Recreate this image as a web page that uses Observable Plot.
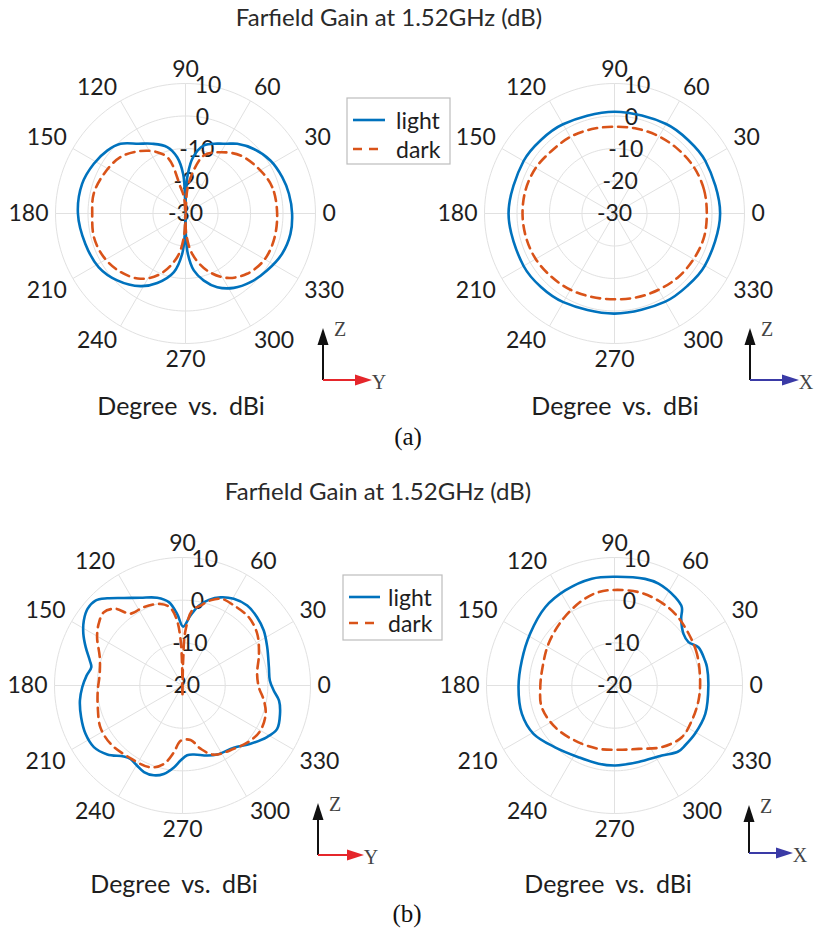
<!DOCTYPE html>
<html>
<head>
<meta charset="utf-8">
<script src="https://cdn.jsdelivr.net/npm/d3@7"></script>
<script src="https://cdn.jsdelivr.net/npm/@observablehq/plot@0.6"></script>
<style>
  body { margin: 0; background: #fff; }
  #fig { position: relative; width: 815px; height: 928px; background: #fff; overflow: hidden;
         font-family: Lato, "Open Sans", sans-serif; color: #222; }
  .abs { position: absolute; }
  .ctext { position: absolute; white-space: nowrap; line-height: 1; transform: translate(-50%, -50%); }
  .ttl { font-size: 24px; color: #2a2a2a; }
  .xl { font-size: 25px; word-spacing: 5px; color: #1e1e1e; }
  .cap { font-family: "Liberation Serif", "Times New Roman", serif; font-size: 25px; color: #111; }
</style>
</head>
<body>
<div id="fig"></div>
<script>
// ---------- ticks / labels ----------
const angleTicks = [0, 30, 60, 90, 120, 150, 180, 210, 240, 270, 300, 330];
const rTicksA = [-30, -20, -10, 0, 10];
const rTicksB = [-20, -10, 0, 10];
const seriesNames = ["light", "dark"];
const seriesColors = ["#0072BD", "#D95319"];
const titleText = "Farfield Gain at 1.52GHz (dB)";
const xLabelText = "Degree vs. dBi";
const captions = ["(a)", "(b)"];

// ---------- (a) YZ plane (left) ----------
const aYZ_light_deg = [0, 10.8, 20.6, 32, 43.4, 53.4, 59.5, 65.6, 74.9, 82.3, 86.6, 89, 90, 91.9, 93.4, 98.4, 105.4, 115.6, 124, 133, 141.2, 151.5, 164, 180, 196.9, 211.8, 224.4, 238.2, 247.9, 258.8, 265.3, 268.1, 270, 271, 273.3, 278.3, 285.3, 293.3, 303, 313.4, 325, 337.4, 349];
const aYZ_light_db  = [2.8, 2.4, 1.8, 0.8, -1.1, -3.3, -5.1, -6.4, -8.3, -12.5, -17.8, -23.9, -30, -23.9, -17.8, -12.5, -8.8, -6.2, -4.1, -0.7, 0.9, 2.1, 3.1, 3.1, 2.2, 1.4, -0.6, -3.7, -6.9, -11.6, -17.5, -23.7, -30, -23.7, -17.6, -12.3, -8.6, -5.3, -2.7, -0.9, 0.6, 2.2, 2.9];
const aYZ_dark_deg  = [0, 16.9, 29.8, 46.5, 60.3, 72.5, 80.5, 85.9, 90, 95, 100.7, 107, 114.8, 125.8, 139.1, 154.1, 167.9, 180, 194.5, 208.1, 222, 235.4, 247.5, 259.2, 266, 270, 272, 279.4, 290.8, 302.9, 315.6, 329, 343];
const aYZ_dark_db   = [-1.8, -2.1, -3.4, -5.4, -8.3, -11.3, -17.6, -22.9, -30, -25, -21.8, -12.4, -9.2, -6.3, -3.5, -2.1, -1.1, -1.3, -0.9, -1.5, -3.1, -5.6, -9.9, -16.3, -22.7, -30, -23.7, -17.4, -11.2, -6.4, -3.5, -1.9, -1.6];

// ---------- (a) XZ plane (right) ----------
const aXZ_light_deg = [0, 30, 45, 60, 90, 120, 135, 150, 180, 210, 225, 240, 270, 300, 315, 330];
const aXZ_light_db  = [2.5, 2.3, 2.0, 1.8, 1.3, 1.7, 2.0, 2.3, 2.6, 2.3, 2.0, 1.5, 0.8, 1.3, 1.6, 2.1];
const aXZ_dark_deg  = [0, 15, 30, 45, 60, 75, 90, 105, 120, 135, 150, 165, 180, 195, 210, 225, 240, 255, 270, 285, 300, 315, 330, 345];
const aXZ_dark_db   = [-1.6, -1.5, -1.7, -2.2, -2.6, -3.0, -3.3, -3.1, -2.8, -2.7, -2.0, -1.7, -1.7, -1.8, -2.0, -2.5, -2.9, -3.4, -3.6, -3.3, -2.9, -2.3, -1.9, -1.5];

// ---------- (b) YZ plane (left) ----------
const bYZ_light_deg = [3.3, 12, 24.4, 34.1, 42.5, 51, 59.4, 66.7, 72.9, 78.5, 83.5, 89.4, 94.3, 99.3, 106.1, 115.6, 123.8, 130.8, 135.7, 141, 146.6, 152.5, 158.4, 164.9, 168.7, 174.1, 181, 188.3, 197.4, 206.5, 214.8, 222.5, 230.4, 234.7, 240.5, 246, 252.3, 258, 264, 268.5, 273.8, 279.3, 289.4, 296.7, 309.5, 319.4, 328.6, 335.4, 343.8, 351.1, 356.9];
const bYZ_light_db  = [0.5, 0.7, 1.8, 3.0, 3.7, 4.1, 3.6, 2.5, 1.0, -0.9, -3.5, -6.2, -3.2, -0.2, 1.4, 2.8, 4.7, 7.0, 8.5, 8.6, 7.7, 6.2, 4.4, 2.5, 1.8, 2.6, 3.5, 4.3, 4.9, 5.4, 5.3, 3.9, 1.6, 1.1, 1.6, 2.2, 2.1, 1.2, -0.7, -2.4, -3.6, -3.6, -2.6, -1.9, -1.1, 1.0, 3.2, 4.4, 3.8, 2.9, 1.4];
const bYZ_dark_deg  = [8.9, 22.5, 34.7, 45.8, 57.3, 65.4, 71.8, 77.3, 82.7, 86.9, 88.5, 89.5, 91, 92.5, 95, 99, 105.1, 116.3, 126, 131.2, 137, 143.6, 150.5, 161.1, 172, 183.4, 194.4, 207, 219, 233.2, 248.6, 256.6, 262.6, 268, 278.4, 285.9, 294.4, 309, 321, 330, 341.1, 349.6, 358.7];
const bYZ_dark_db   = [-2.3, -0.6, 1.3, 2.3, 2.3, 2.3, 1.0, -0.8, -2.3, -7.1, -14, -22.5, -16, -9, -4.5, -1.5, -0.2, 0.5, 0.8, 3.9, 5.2, 4.4, 3.0, 0.5, -0.4, -0.1, 0.5, 1.6, 1.7, 1.0, 0.6, -1.1, -4.2, -7.0, -7.1, -4.6, -2.2, -0.9, 0.5, 1.1, 0.6, -0.6, -2.1];

// ---------- (b) XZ plane (right) ----------
const bXZ_light_deg = [0, 11.2, 15.4, 24.5, 30.4, 36.8, 45, 49.3, 55.5, 66.6, 74, 90, 102, 117.4, 131.5, 148.5, 164.9, 181, 197, 210.8, 226.1, 243.3, 258.5, 270.5, 287.4, 304, 314, 320, 329, 342.6];
const bXZ_light_db  = [2.0, 2.1, 2.0, 1.6, 0.1, 0.2, 2.1, 4.2, 5.1, 6.0, 6.0, 5.5, 5.6, 5.1, 4.5, 3.2, 2.5, 2.5, 2.7, 2.1, 0.1, -1.2, -1.3, -1.25, -1.2, -0.2, 1.5, 1.7, 2.0, 2.3];
const bXZ_dark_deg  = [3.3, 21, 34.9, 49.8, 62.6, 75.6, 90, 99.7, 111, 129, 147.7, 165.7, 181.3, 196.6, 215.1, 234.4, 255.8, 273.6, 290.8, 307.5, 322.5, 335.6, 349.9];
const bXZ_dark_db   = [0.1, 0.7, 1.2, 2.0, 2.4, 2.6, 2.4, 2.2, 1.3, -0.4, -1.7, -2.6, -2.6, -2.2, -3.0, -4.1, -4.7, -4.9, -4.1, -1.8, -0.1, -0.1, 0.0];

// ---------- drawing ----------
const fig = document.getElementById("fig");
const RAD = Math.PI / 180;
const gx = (a, r) => r * Math.cos(a * RAD);
const gy = (a, r) => r * Math.sin(a * RAD);
const GRID = "#e1e1e1";
const TXT = "#1e1e1e";

function addText(cls, text, x, y) {
  const d = document.createElement("div");
  d.className = "ctext " + cls;
  d.textContent = text;
  d.style.left = x + "px";
  d.style.top = y + "px";
  fig.appendChild(d);
}

function makePanel({cx, cy, rmin, rmax, Rpx, rTicks, light, dark}) {
  const D = rmax - rmin, S = 190;
  const rings = rTicks.filter(t => t > rmin).flatMap(t => d3.range(0, 360.1, 2).map(a => ({t, a})));
  const rows = (deg, db) => deg.map((a, i) => ({a, r: db[i] - rmin}));
  const lab = D * (Rpx + 7) / Rpx;
  const angleMarks = angleTicks.map(a => {
    const c = Math.cos(a * RAD), s = Math.sin(a * RAD);
    return Plot.text([a], {
      x: d => gx(d, lab), y: d => gy(d, lab), text: d => String(d),
      textAnchor: c > 0.1 ? "start" : c < -0.1 ? "end" : "middle",
      lineAnchor: s > 0.1 ? "bottom" : s < -0.1 ? "top" : "middle",
      fontSize: 23, fill: TXT
    });
  });
  const chart = Plot.plot({
    width: 2 * S, height: 2 * S, margin: 0,
    x: {axis: null, domain: [-D, D], range: [S - Rpx, S + Rpx]},
    y: {axis: null, domain: [-D, D], range: [S + Rpx, S - Rpx]},
    style: {background: "transparent", overflow: "visible", fontFamily: "Lato, sans-serif"},
    marks: [
      Plot.line(rings, {x: d => gx(d.a, d.t - rmin), y: d => gy(d.a, d.t - rmin), z: "t", stroke: GRID, strokeWidth: 1}),
      Plot.link(angleTicks, {x1: () => 0, y1: () => 0, x2: a => gx(a, D), y2: a => gy(a, D), stroke: GRID, strokeWidth: 1}),
      ...angleMarks,
      Plot.text(rTicks, {x: t => gx(80, t - rmin), y: t => gy(80, t - rmin), text: t => String(t),
                         textAnchor: "middle", lineAnchor: "middle", fontSize: 23, fill: TXT}),
      Plot.line(rows(light.deg, light.db), {x: d => gx(d.a, d.r), y: d => gy(d.a, d.r),
                curve: "catmull-rom-closed", stroke: seriesColors[0], strokeWidth: 2.6}),
      Plot.line(rows(dark.deg, dark.db), {x: d => gx(d.a, d.r), y: d => gy(d.a, d.r),
                curve: "catmull-rom-closed", stroke: seriesColors[1], strokeWidth: 2.6, strokeDasharray: "9,6"})
    ]
  });
  const holder = document.createElement("div");
  holder.className = "abs";
  holder.style.left = (cx - S) + "px";
  holder.style.top = (cy - S) + "px";
  holder.style.width = (2 * S) + "px";
  holder.appendChild(chart);
  fig.appendChild(holder);
}

makePanel({cx: 185, cy: 213, rmin: -30, rmax: 10, Rpx: 130, rTicks: rTicksA,
  light: {deg: aYZ_light_deg, db: aYZ_light_db}, dark: {deg: aYZ_dark_deg, db: aYZ_dark_db}});
makePanel({cx: 614, cy: 213, rmin: -30, rmax: 10, Rpx: 130, rTicks: rTicksA,
  light: {deg: aXZ_light_deg, db: aXZ_light_db}, dark: {deg: aXZ_dark_deg, db: aXZ_dark_db}});
makePanel({cx: 182, cy: 685, rmin: -20, rmax: 10, Rpx: 128, rTicks: rTicksB,
  light: {deg: bYZ_light_deg, db: bYZ_light_db}, dark: {deg: bYZ_dark_deg, db: bYZ_dark_db}});
makePanel({cx: 614, cy: 685, rmin: -20, rmax: 10, Rpx: 128, rTicks: rTicksB,
  light: {deg: bXZ_light_deg, db: bXZ_light_db}, dark: {deg: bXZ_dark_deg, db: bXZ_dark_db}});

// titles, axis captions, sub-figure labels
addText("ttl", titleText, 389, 17);
addText("ttl", titleText, 378, 491);
addText("xl", xLabelText, 181, 405);
addText("xl", xLabelText, 615, 405);
addText("xl", xLabelText, 174, 883);
addText("xl", xLabelText, 608, 883);
addText("cap", captions[0], 408, 436);
addText("cap", captions[1], 407, 913);

// overlay: legends and coordinate-axis icons
const NS = "http://www.w3.org/2000/svg";
const ov = document.createElementNS(NS, "svg");
ov.setAttribute("width", 815); ov.setAttribute("height", 928);
ov.setAttribute("class", "abs");
ov.style.left = "0px"; ov.style.top = "0px"; ov.style.pointerEvents = "none";
fig.appendChild(ov);
function el(tag, attrs, text) {
  const e = document.createElementNS(NS, tag);
  for (const k in attrs) e.setAttribute(k, attrs[k]);
  if (text != null) e.textContent = text;
  ov.appendChild(e);
  return e;
}
function legend(x, y, w, h, rowY, lineX0, lineX1, textX) {
  el("rect", {x, y, width: w, height: h, fill: "#fff", stroke: "#bdbdbd", "stroke-width": 1.2});
  seriesNames.forEach((name, i) => {
    el("line", {x1: lineX0, x2: lineX1, y1: rowY[i], y2: rowY[i], stroke: seriesColors[i], "stroke-width": 2.6,
                "stroke-dasharray": i === 1 ? "9,7" : "none"});
    el("text", {x: textX, y: rowY[i], "dominant-baseline": "central", "font-family": "Lato, sans-serif",
                "font-size": 23, fill: TXT}, name);
  });
}
legend(347, 98, 103, 66, [120, 149], 353, 385, 396);
legend(343, 575, 99, 65, [597, 623], 349, 380, 388);

function axesIcon(ox, oy, up, right, hColor, hLabel) {
  el("line", {x1: ox, y1: oy, x2: ox, y2: oy - up + 14, stroke: "#111", "stroke-width": 2});
  el("polygon", {points: `${ox},${oy - up} ${ox - 5.5},${oy - up + 17} ${ox + 5.5},${oy - up + 17}`, fill: "#111"});
  el("line", {x1: ox, y1: oy, x2: ox + right - 14, y2: oy, stroke: hColor, "stroke-width": 2});
  el("polygon", {points: `${ox + right},${oy} ${ox + right - 17},${oy - 5.5} ${ox + right - 17},${oy + 5.5}`, fill: hColor});
  el("text", {x: ox + 17, y: oy - up + 1, "dominant-baseline": "central", "text-anchor": "middle",
              "font-family": "Liberation Serif, serif", "font-size": 20, fill: "#444"}, "Z");
  el("text", {x: ox + right + 7, y: oy + 2, "dominant-baseline": "central", "text-anchor": "middle",
              "font-family": "Liberation Serif, serif", "font-size": 20, fill: "#444"}, hLabel);
}
axesIcon(323, 380, 52, 49, "#e5262b", "Y");
axesIcon(750, 380, 52, 49, "#3a3aa6", "X");
axesIcon(318, 855, 52, 46, "#e5262b", "Y");
axesIcon(749, 853, 48, 44, "#3a3aa6", "X");
</script>
</body>
</html>
